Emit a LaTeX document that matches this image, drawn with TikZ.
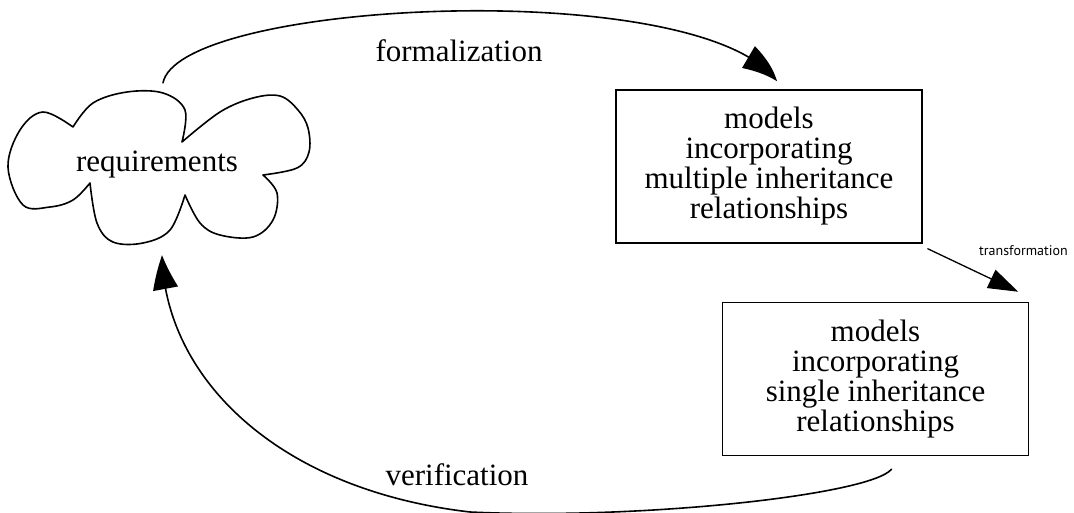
\documentclass[tikz,border=0pt]{standalone}
\usepackage{fontspec}
\setmainfont{Liberation Serif}
\newfontfamily\labelsans{PT Sans}
\usetikzlibrary{arrows.meta,bending}
\begin{document}
\begin{tikzpicture}[x=1pt,y=-1pt,
    ink/.style={line width=1.6pt,black,line join=round,line cap=round},
    bigtext/.style={font=\fontsize{31}{30}\selectfont,align=center,inner sep=0pt},
    modelbox/.style={draw,line width=1.5pt,minimum width=306pt,minimum height=153pt,
      bigtext},
    flow/.style={ink,-{Triangle[length=34pt,width=25pt,bend]}},
    smallflow/.style={ink,line width=1.3pt,-{Triangle[length=30pt,width=20pt]}}]
  \useasboundingbox (0,0) rectangle (1074,513);

  % requirements cloud
  \node[bigtext,minimum width=292pt,minimum height=151pt] (cloud) at (155,167.5) {};
  \node[bigtext,anchor=base] (req) at (157,172) {requirements};
  \draw[ink]
    plot[smooth,tension=0.6] coordinates {(73,127) (43,112) (20,130) (8,167) (23,205) (50,207) (73,200) (90,183)}
    plot[smooth,tension=0.6] coordinates {(90,183) (97,223) (113,242) (143,243) (170,230) (185,195)}
    plot[smooth,tension=0.6] coordinates {(185,195) (200,223) (220,235) (253,237) (273,220) (277,193) (263,175)}
    plot[smooth,tension=0.6] coordinates {(263,175) (297,168) (309,152) (308,128) (298,110) (280,96) (253,98) (220,112) (182,142)}
    plot[smooth,tension=0.6] coordinates {(182,142) (185,110) (163,93) (127,92) (93,103) (73,127)};

  % model boxes
  \node[modelbox] (multi) at (769,166.5)
    {models\\incorporating\\multiple inheritance\\relationships};
  \node[modelbox] (single) at (875.5,379)
    {models\\incorporating\\single inheritance\\relationships};

  % connector end points
  \coordinate (fstart) at ([shift={(8,-9)}]cloud.north);
  \coordinate (fend) at ([shift={(8,-8)}]multi.north);
  \coordinate (tstart) at ([shift={(5,5)}]multi.south east);
  \coordinate (tend) at ([shift={(-11,-10)}]single.north east);
  \coordinate (vstart) at ([shift={(16,13)}]single.south);
  \coordinate (vlow) at (470,512);
  \coordinate (vend) at ([shift={(7,12)}]cloud.south);

  % formalization
  \draw[flow] (fstart) .. controls (180,0) and (700,-25) .. (fend);
  \node[bigtext,anchor=base] (flabel) at (459,62) {formalization};

  % transformation
  \draw[smallflow] (tstart) -- (tend);
  \node[anchor=base west,inner sep=0pt,font=\labelsans\fontsize{14}{14}\selectfont] (tlabel) at (979,255) {transformation};

  % verification
  \draw[flow] (vstart) .. controls (870,495) and (640,520) .. (vlow)
    .. controls (280,490) and (165,380) .. (vend);
  \node[bigtext,anchor=base] (vlabel) at (457,485) {verification};
\end{tikzpicture}
\end{document}
